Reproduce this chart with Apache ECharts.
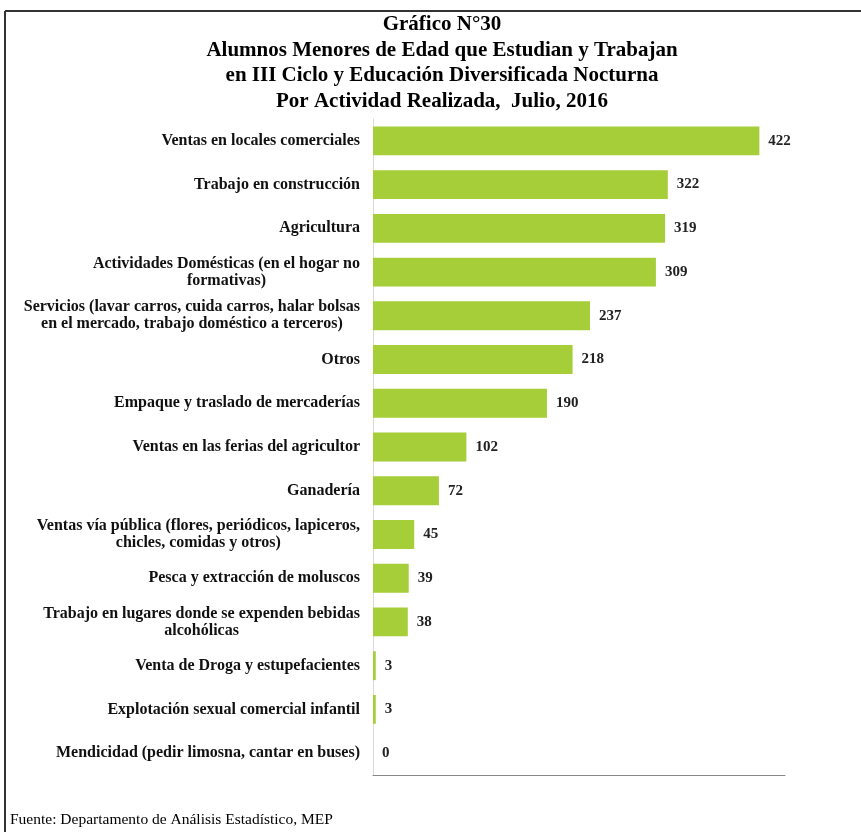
<!DOCTYPE html>
<html>
<head>
<meta charset="utf-8">
<script src="https://cdn.jsdelivr.net/npm/echarts@6/dist/echarts.min.js"></script>
<style>
html,body{margin:0;padding:0;background:#fff;}
#chart{width:861px;height:832px;}
</style>
</head>
<body>
<div id="chart"></div>
<script>
const titleLines = [
  'Gráfico N°30',
  'Alumnos Menores de Edad que Estudian y Trabajan',
  'en III Ciclo y Educación Diversificada Nocturna',
  'Por Actividad Realizada,  Julio, 2016'
];
const categories = [
  'Ventas en locales comerciales',
  'Trabajo en construcción',
  'Agricultura',
  'Actividades Domésticas (en el hogar no\nformativas)',
  'Servicios (lavar carros, cuida carros, halar bolsas\nen el mercado, trabajo doméstico a terceros)',
  'Otros',
  'Empaque y traslado de mercaderías',
  'Ventas en las ferias del agricultor',
  'Ganadería',
  'Ventas vía pública (flores, periódicos, lapiceros,\nchicles, comidas y otros)',
  'Pesca y extracción de moluscos',
  'Trabajo en lugares donde se expenden bebidas\nalcohólicas',
  'Venta de Droga y estupefacientes',
  'Explotación sexual comercial infantil',
  'Mendicidad (pedir limosna, cantar en buses)'
];
const values = [422, 322, 319, 309, 237, 218, 190, 102, 72, 45, 39, 38, 3, 3, 0];
const sourceNote = 'Fuente: Departamento de Análisis Estadístico, MEP';

const serif = '"Liberation Serif", "Times New Roman", serif';
const chart = echarts.init(document.getElementById('chart'));
chart.setOption({
  backgroundColor: '#fff',
  animation: false,
  title: {
    text: titleLines.join('\n'),
    left: 437,
    textAlign: 'center',
    top: 7,
    textStyle: {fontFamily: serif, fontWeight: 'bold', fontSize: 21, lineHeight: 25.5, color: '#000'}
  },
  graphic: [
    {type: 'line', shape: {x1: 5, y1: 11, x2: 861, y2: 11}, style: {stroke: '#333', lineWidth: 2}},
    {type: 'line', shape: {x1: 5, y1: 11, x2: 5, y2: 832}, style: {stroke: '#333', lineWidth: 2}},
    {type: 'text', left: 10, top: 812, style: {text: sourceNote, font: '15.5px ' + serif, fill: '#000'}}
  ],
  grid: {left: 373, right: 76, top: 119, height: 656, containLabel: false},
  xAxis: {
    type: 'value', min: 0, max: 450,
    axisLabel: {show: false}, splitLine: {show: false}, axisTick: {show: false},
    axisLine: {show: true, lineStyle: {color: '#888', width: 1}}
  },
  yAxis: {
    type: 'category', data: categories, inverse: true,
    axisTick: {show: false},
    axisLine: {show: true, lineStyle: {color: '#d9d9d9'}},
    axisLabel: {
      margin: 13,
      formatter: function (v) { return v.split('\n').map(function (s) { return '{c|' + s + '}'; }).join('\n'); },
      rich: {c: {align: 'center', fontFamily: serif, fontWeight: 'bold', fontSize: 16, lineHeight: 17, color: '#111'}}
    }
  },
  series: [{
    type: 'bar', data: values, barCategoryGap: '34%',
    itemStyle: {color: '#A6CE39'},
    label: {show: true, position: 'right', distance: 9, fontFamily: serif, fontWeight: 'bold', fontSize: 15, color: '#222'}
  }]
});
</script>
</body>
</html>
